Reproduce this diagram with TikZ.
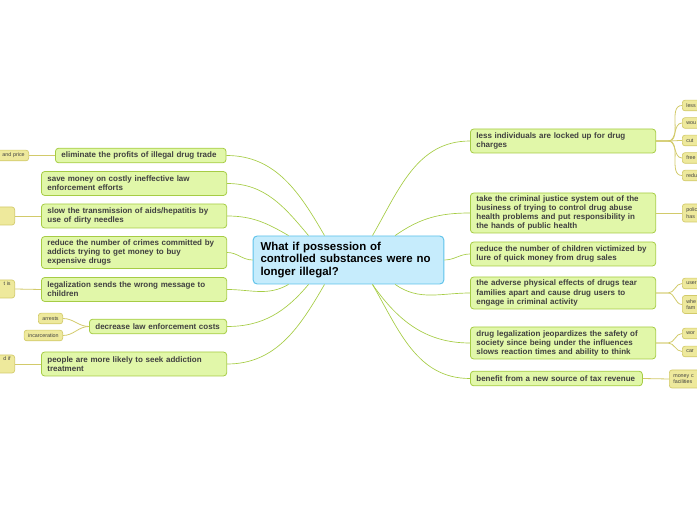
\documentclass[tikz,border=0pt]{standalone}
\usepackage{fontspec}
\setmainfont{Liberation Sans}
\usetikzlibrary{positioning}
\definecolor{topicfill}{HTML}{E1F7A9}
\definecolor{topicline}{HTML}{A6CC45}
\definecolor{leaffill}{HTML}{EEE99C}
\definecolor{leafline}{HTML}{D2CA6A}
\definecolor{rootfill}{HTML}{C6ECFC}
\definecolor{rootline}{HTML}{5DC2EA}
\tikzset{
  topic/.style={draw=topicline,fill=topicfill,rounded corners=2.5pt,line width=0.6pt,
    anchor=west,align=left,inner xsep=4.5pt,inner ysep=2pt,font=\fontsize{6}{6.8}\selectfont\bfseries,text=black!75},
  leaf/.style={draw=leafline,fill=leaffill,rounded corners=2pt,line width=0.5pt,
    align=left,inner xsep=3pt,inner ysep=1.5pt,font=\fontsize{4}{5}\selectfont,text=black!75},
  link/.style={draw=topicline,line width=0.5pt},
  leaflink/.style={draw=leafline,line width=0.6pt}
}
\begin{document}
\begin{tikzpicture}[x=0.75pt,y=0.75pt,yscale=-1,xscale=1]
\useasboundingbox (0,0) rectangle (697,520);
\clip (0,0) rectangle (697,520);

% root
\node[draw=rootline,fill=rootfill,rounded corners=3pt,line width=0.7pt,minimum width=143pt,minimum height=36pt,
  text width=132pt,align=left,font=\fontsize{8.6}{9.4}\selectfont\bfseries] (root) at (348.5,260)
  {What if possession of\\controlled substances were no\\longer illegal?};

% right topics
\node[topic,text width=130pt,minimum height=18pt] (less) at (470,141) {less individuals are locked up for drug\\charges};
\node[topic,text width=130pt,minimum height=30pt] (justice) at (470,213) {take the criminal justice system out of the\\business of trying to control drug abuse\\health problems and put responsibility in\\the hands of public health};
\node[topic,text width=130pt,minimum height=18pt] (children) at (470,254) {reduce the number of children victimized by\\lure of quick money from drug sales};
\node[topic,text width=130pt,minimum height=24pt] (families) at (470,293) {the adverse physical effects of drugs tear\\families apart and cause drug users to\\engage in criminal activity};
\node[topic,text width=130pt,minimum height=24pt] (safety) at (470,343) {drug legalization jeopardizes the safety of\\society since being under the influences\\slows reaction times and ability to think};
\node[topic,text width=120pt,minimum height=11pt] (tax) at (470,378.5) {benefit from a new source of tax revenue};

% left topics
\node[topic,text width=119pt,minimum height=11pt] (profits) at (55,155.5) {eliminate the profits of illegal drug trade};
\node[topic,text width=130pt,minimum height=18pt] (money) at (41,183.5) {save money on costly ineffective law\\enforcement efforts};
\node[topic,text width=130pt,minimum height=18pt] (aids) at (41,216) {slow the transmission of aids/hepatitis by\\use of dirty needles};
\node[topic,text width=130pt,minimum height=24pt] (crimes) at (41,252.5) {reduce the number of crimes committed by\\addicts trying to get money to buy\\expensive drugs};
\node[topic,text width=130pt,minimum height=18pt] (message) at (41,289.5) {legalization sends the wrong message to\\children};
\node[topic,text width=94pt,minimum height=11pt] (costs) at (89,326.5) {decrease law enforcement costs};
\node[topic,text width=130pt,minimum height=18pt] (treatment) at (41,364) {people are more likely to seek addiction\\treatment};

% left leaves
\node[leaf,anchor=east,text width=40pt,align=right,minimum height=8pt] (price) at (29,155.5) {and price};
\node[leaf,anchor=east,text width=30pt,minimum height=13.5pt] (aidsleaf) at (15,216) {};
\node[leaf,anchor=east,text width=30pt,align=right,minimum height=13.5pt] (msgleaf) at (15,289) {t is\\[1pt]\strut};
\node[leaf,anchor=east,text width=30pt,align=right,minimum height=13.5pt] (treatleaf) at (15,364) {d if\\[1pt]\strut};
\node[leaf,anchor=east,minimum height=8pt] (arrests) at (63,318.5) {arrests};
\node[leaf,anchor=east,minimum height=8pt] (prison) at (63,335.5) {incarceration};

% right leaves
\foreach \n/\t/\y in {la/less/105.5,lb/wou/123,lc/cut/140.5,ld/free/158,le/redu/175.5}
  \node[leaf,anchor=west,text width=30pt,minimum height=8pt] (\n) at (682,\y) {\t};
\node[leaf,anchor=west,text width=30pt,minimum height=13.5pt] (police) at (682,213) {police\\has};
\node[leaf,anchor=west,text width=30pt,minimum height=8pt] (user) at (682,283.5) {user};
\node[leaf,anchor=west,text width=30pt,minimum height=13.5pt] (whe) at (682,304.5) {whe\\fam};
\node[leaf,anchor=west,text width=30pt,minimum height=8pt] (wor) at (682,333.5) {wor};
\node[leaf,anchor=west,text width=30pt,minimum height=8pt] (car) at (682,351.5) {car};
\node[leaf,anchor=west,text width=36pt,minimum height=13.5pt] (fac) at (669,379) {money c\\facilities};

% root to topics (yscale=-1: negative angles point up)
\draw[link] ([xshift=18pt]root.north) to[out=-60,in=180] (less.west);
\draw[link] ([xshift=35pt]root.north) to[out=-35,in=180] (justice.west);
\draw[link] (root.east) to[out=0,in=180] (children.west);
\draw[link] ([xshift=35pt]root.south) to[out=35,in=180] (families.west);
\draw[link] ([xshift=18pt]root.south) to[out=55,in=180] (safety.west);
\draw[link] ([xshift=18pt]root.south) to[out=60,in=180] (tax.west);
\draw[link] ([xshift=-18pt]root.north) to[out=-120,in=0] (profits.east);
\draw[link] ([xshift=-30pt]root.north) to[out=-130,in=0] (money.east);
\draw[link] ([xshift=-45pt]root.north) to[out=-150,in=0] (aids.east);
\draw[link] (root.west) to[out=180,in=0] (crimes.east);
\draw[link] ([xshift=-45pt]root.south) to[out=150,in=0] (message.east);
\draw[link] ([xshift=-30pt]root.south) to[out=130,in=0] (costs.east);
\draw[link] ([xshift=-18pt]root.south) to[out=120,in=0] (treatment.east);

% topics to leaves
\draw[leaflink] (profits.west) -- (price.east);
\draw[leaflink] (aids.west) -- (aidsleaf.east);
\draw[leaflink] (message.west) -- (msgleaf.east);
\draw[leaflink] (treatment.west) -- (treatleaf.east);
\foreach \n in {arrests,prison}
  \draw[leaflink] (costs.west) to[out=180,in=0] (\n.east);
\foreach \n in {la,lb,lc,ld,le}
  \draw[leaflink] (less.east) -- ++(12,0) to[out=0,in=180] (\n.west);
\draw[leaflink] (justice.east) -- (police.west);
\foreach \n in {user,whe}
  \draw[leaflink] (families.east) -- ++(12,0) to[out=0,in=180] (\n.west);
\foreach \n in {wor,car}
  \draw[leaflink] (safety.east) -- ++(12,0) to[out=0,in=180] (\n.west);
\draw[leaflink] (tax.east) -- (fac.west);
\end{tikzpicture}
\end{document}
